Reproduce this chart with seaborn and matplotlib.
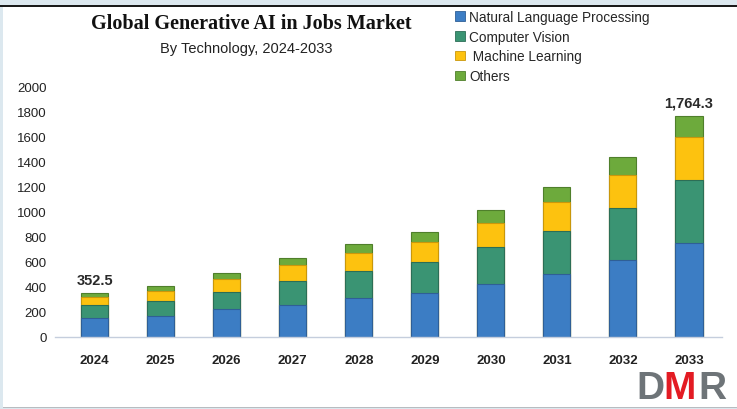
import matplotlib
matplotlib.use("Agg")
import matplotlib.pyplot as plt
import matplotlib.patches as mpatches
import numpy as np
import pandas as pd
import seaborn as sns

years = ["2024", "2025", "2026", "2027", "2028", "2029", "2030", "2031", "2032", "2033"]
nlp = [148, 168, 220, 257, 308, 350, 420, 500, 612, 752]
cv = [105, 117, 138, 187, 215, 248, 298, 345, 412, 496]
ml = [68, 80, 106, 133, 149, 159, 194, 229, 267, 342]
others = [31.5, 38, 48, 54, 73, 76, 97, 120, 141, 174.3]
series_names = ["Natural Language Processing", "Computer Vision", " Machine Learning", "Others"]
series_colors = ["#3C7DC4", "#3A9473", "#FDC20F", "#6DAA3C"]
edge_colors = ["#2F5F96", "#2C6E56", "#C9970B", "#4F7F2B"]
y_ticks = [0, 200, 400, 600, 800, 1000, 1200, 1400, 1600, 1800, 2000]
value_labels = {"2024": "352.5", "2033": "1,764.3"}

sns.set_theme(style="white")
plt.rcParams["font.family"] = ["Liberation Sans", "DejaVu Sans"]

W, H = 737, 410
fig = plt.figure(figsize=(W / 100, H / 100), dpi=100, facecolor="#DCE8EF")

# white panel with top dark rule
fig.patches.append(mpatches.Rectangle((3 / W, 1 - 408 / H), 1 - 3 / W, (408 - 7) / H,
                                      transform=fig.transFigure, facecolor="white",
                                      edgecolor="none", zorder=0))
fig.patches.append(mpatches.Rectangle((0, 1 - 7.5 / H), 1, 1.8 / H,
                                      transform=fig.transFigure, facecolor="#1a1a1a",
                                      edgecolor="none", zorder=1))
fig.patches.append(mpatches.Rectangle((3 / W, 1 - 409 / H), 1 - 3 / W, 1.5 / H,
                                      transform=fig.transFigure, facecolor="#B8BCC0",
                                      edgecolor="none", zorder=1))

ax = fig.add_axes([55 / W, 72 / H, (722 - 55) / W, (338 - 87) / H])
ax.set_facecolor("none")
ax.set_zorder(3)

df = pd.DataFrame({"year": years, "nlp": nlp, "cv": cv, "ml": ml, "others": others})
layers = [df["nlp"], df["cv"], df["ml"], df["others"]]
cum = np.cumsum(np.array(layers), axis=0)

for i in range(len(layers) - 1, -1, -1):
    sns.barplot(x=df["year"], y=cum[i], color=series_colors[i], width=0.41,
                edgecolor=edge_colors[i], linewidth=0.8, saturation=1, ax=ax)

ax.set_xlim(-0.6, 9.5)
ax.set_ylim(0, 2000)
ax.set_yticks(y_ticks)
ax.set_yticklabels([str(v) for v in y_ticks], fontsize=9.5, color="#222222")
ax.tick_params(axis="both", length=0)
ax.tick_params(axis="y", pad=6)
ax.tick_params(axis="x", pad=12)
for lbl in ax.get_xticklabels():
    lbl.set_fontweight("bold")
    lbl.set_fontsize(9.5)
    lbl.set_color("#222222")
ax.set_xlabel("")
ax.set_ylabel("")
for s in ["left", "top", "right"]:
    ax.spines[s].set_visible(False)
ax.spines["bottom"].set_color("#C5CEDD")
ax.spines["bottom"].set_linewidth(1.0)

totals = cum[-1]
for i, yr in enumerate(years):
    if yr in value_labels:
        ax.text(i, totals[i] + 45, value_labels[yr], ha="center", va="bottom",
                fontsize=10.5, fontweight="bold", color="#2a2a2a", clip_on=False)

# titles
fig.text(251 / W, 1 - 24 / H, "Global Generative AI in Jobs Market", ha="center", va="center",
         fontsize=14.5, fontweight="bold", family=["Liberation Serif"], color="#111111")
fig.text(246 / W, 1 - 49 / H, "By Technology, 2024-2033", ha="center", va="center",
         fontsize=10.5, color="#222222")

# legend
handles = [mpatches.Patch(facecolor=c, edgecolor=e, linewidth=0.6) for c, e in zip(series_colors, edge_colors)]
fig.legend(handles, series_names, loc="upper left", bbox_to_anchor=(455 / W, 1 - 11 / H),
           frameon=False, fontsize=9.8, handlelength=0.7, handleheight=0.7,
           handletextpad=0.35, labelspacing=0.42, borderaxespad=0, borderpad=0)

# DMR mark
fig.text(636 / W, 1 - 399 / H, "D", ha="left", va="baseline", fontsize=28,
         fontweight="bold", color="#6E7478", zorder=2)
fig.text(663 / W, 1 - 399 / H, "M", ha="left", va="baseline", fontsize=28,
         fontweight="bold", color="#E31B23", zorder=2)
fig.text(698 / W, 1 - 399 / H, "R", ha="left", va="baseline", fontsize=28,
         fontweight="bold", color="#6E7478", zorder=2)

fig.savefig("out.png", dpi=100, facecolor=fig.get_facecolor())
